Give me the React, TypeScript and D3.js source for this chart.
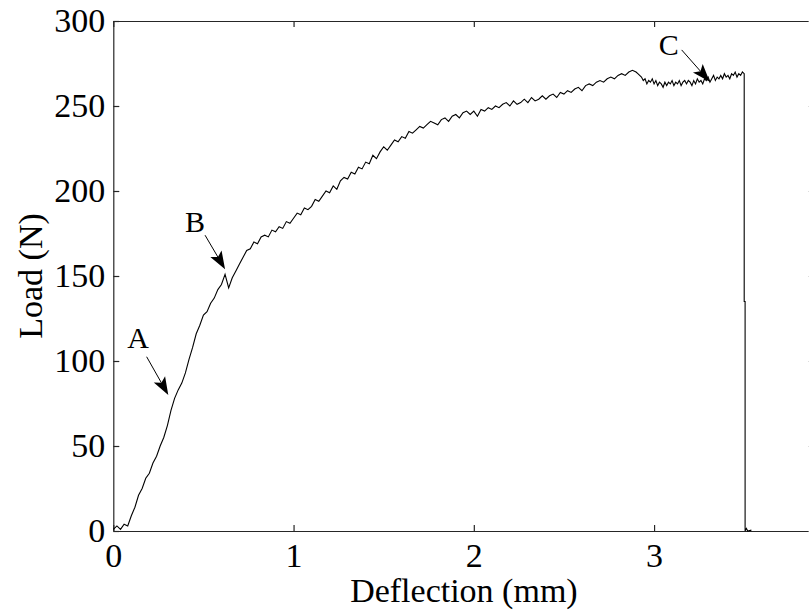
import { useEffect, useRef } from 'react'
import * as d3 from 'd3'

// ─── Data ────────────────────────────────────────────────────────────────────

const xTicks = [0, 1, 2, 3]
const yTicks = [0, 50, 100, 150, 200, 250, 300]

// deflection (mm), load (N)
const loadCurve: [number, number][] = [
  [0.00, 1], [0.02, 3], [0.04, 1], [0.06, 4], [0.08, 3], [0.10, 9], [0.12, 14], [0.14, 21],
  [0.16, 25], [0.18, 31], [0.20, 34], [0.22, 40], [0.24, 44], [0.26, 50], [0.28, 55], [0.30, 62],
  [0.32, 71], [0.34, 78], [0.36, 83], [0.38, 87], [0.40, 93], [0.42, 101], [0.44, 108], [0.46, 116],
  [0.48, 121], [0.50, 127], [0.52, 129], [0.54, 134], [0.56, 137], [0.58, 142], [0.60, 145], [0.62, 151],
  [0.64, 143], [0.66, 149], [0.68, 153], [0.70, 157], [0.72, 161], [0.74, 165], [0.76, 166], [0.78, 170],
  [0.80, 169], [0.82, 173], [0.84, 174], [0.86, 173], [0.88, 177], [0.90, 176], [0.92, 179], [0.94, 178],
  [0.96, 182], [0.98, 181], [1.00, 184], [1.02, 187], [1.04, 186], [1.06, 190], [1.08, 189], [1.10, 191],
  [1.12, 195], [1.14, 194], [1.16, 197], [1.18, 200], [1.20, 199], [1.22, 203], [1.24, 201], [1.26, 206],
  [1.28, 208], [1.30, 207], [1.32, 211], [1.34, 210], [1.36, 214], [1.38, 213], [1.40, 217], [1.42, 216],
  [1.44, 221], [1.46, 219], [1.48, 223], [1.50, 226], [1.52, 224], [1.54, 227], [1.56, 230], [1.58, 229],
  [1.60, 232], [1.62, 231], [1.64, 235], [1.66, 234], [1.68, 236], [1.70, 238], [1.72, 237], [1.74, 239],
  [1.76, 241], [1.78, 240], [1.80, 239], [1.82, 242], [1.84, 243], [1.86, 241], [1.88, 244], [1.90, 245],
  [1.92, 243], [1.94, 246], [1.96, 247], [1.98, 245], [2.00, 247], [2.02, 244], [2.04, 248], [2.06, 247],
  [2.08, 249], [2.10, 248], [2.12, 250], [2.14, 249], [2.16, 251], [2.18, 252], [2.20, 250], [2.22, 253],
  [2.24, 251], [2.26, 252], [2.28, 254], [2.30, 252], [2.32, 255], [2.34, 253], [2.36, 254], [2.38, 256],
  [2.40, 254], [2.42, 256], [2.44, 257], [2.46, 255], [2.48, 258], [2.50, 257], [2.52, 259], [2.54, 258],
  [2.56, 260], [2.58, 261], [2.60, 259], [2.62, 262], [2.64, 263], [2.66, 262], [2.68, 264], [2.70, 265],
  [2.72, 264], [2.74, 266], [2.76, 267], [2.78, 266], [2.80, 268], [2.82, 269], [2.84, 268], [2.86, 270],
  [2.88, 271], [2.90, 270], [2.91, 269], [2.92, 268], [2.93, 267], [2.94, 265], [2.95, 266], [2.96, 263],
  [2.97, 265], [2.98, 264], [2.99, 266], [3.00, 263], [3.01, 265], [3.02, 262], [3.03, 264], [3.04, 263],
  [3.05, 261], [3.06, 264], [3.07, 262], [3.08, 264], [3.09, 263], [3.10, 265], [3.11, 262], [3.12, 264],
  [3.13, 263], [3.14, 265], [3.15, 262], [3.16, 264], [3.17, 265], [3.18, 263], [3.19, 265], [3.20, 264],
  [3.21, 262], [3.22, 265], [3.23, 263], [3.24, 266], [3.25, 264], [3.26, 265], [3.27, 263], [3.28, 266],
  [3.29, 265], [3.30, 267], [3.31, 264], [3.32, 266], [3.33, 268], [3.34, 265], [3.35, 267], [3.36, 266],
  [3.37, 268], [3.38, 266], [3.39, 269], [3.40, 267], [3.41, 268], [3.42, 266], [3.43, 269], [3.44, 268],
  [3.45, 270], [3.46, 267], [3.47, 269], [3.48, 268], [3.49, 270], [3.50, 269],
  // failure drop
  [3.500, 135], [3.505, 135], [3.505, 0], [3.512, 1.5], [3.52, 0], [3.54, 0.5],
]

// annotation letters: label position, arrow tail, arrow tip (data coords)
const markerLabels = ['A', 'B', 'C']
const markerText: [number, number][] = [[0.137, 107.5], [0.453, 176], [3.082, 280]]
const markerTail: [number, number][] = [[0.185, 102.5], [0.509, 174], [3.153, 283]]
const markerTip: [number, number][] = [[0.305, 80], [0.62, 154], [3.309, 264.3]]

// ─── Layout ──────────────────────────────────────────────────────────────────

const W = 809
const H = 614
const plot = { left: 113.3, right: 814.5, top: 21, bottom: 531 }
const serif = "'Liberation Serif', 'Times New Roman', serif"
const ink = '#262626'

export default function App() {
  const ref = useRef<SVGSVGElement>(null)

  useEffect(() => {
    if (!ref.current) return
    const svg = d3.select(ref.current)
    svg.selectAll('*').remove()

    const x = d3.scaleLinear().domain([0, 3.89]).range([plot.left, plot.right])
    const y = d3.scaleLinear().domain([0, 300]).range([plot.bottom, plot.top])

    const styleAxis = (sel: d3.Selection<SVGGElement, unknown, null, undefined>) => {
      sel.attr('font-family', serif).attr('font-size', 34)
      sel.select('.domain').attr('stroke', ink).attr('stroke-width', 1.2)
      sel.selectAll('.tick line').attr('stroke', ink).attr('stroke-width', 1.2)
      sel.selectAll('.tick text').attr('fill', '#000')
    }

    // bottom
    svg.append('g')
      .attr('transform', `translate(0,${plot.bottom})`)
      .call(d3.axisBottom(x).tickValues(xTicks).tickSize(-6).tickSizeOuter(0).tickPadding(12).tickFormat(d3.format('d')))
      .call(styleAxis)
    // top
    svg.append('g')
      .attr('transform', `translate(0,${plot.top})`)
      .call(d3.axisTop(x).tickValues(xTicks).tickSize(-6).tickSizeOuter(0).tickFormat(() => ''))
      .call(styleAxis)
    // left
    svg.append('g')
      .attr('transform', `translate(${plot.left},0)`)
      .call(d3.axisLeft(y).tickValues(yTicks).tickSize(-6).tickSizeOuter(0).tickPadding(8).tickFormat(d3.format('d')))
      .call(styleAxis)
    // right (spine falls just outside the picture)
    svg.append('g')
      .attr('transform', `translate(${plot.right},0)`)
      .call(d3.axisRight(y).tickValues(yTicks).tickSize(-6).tickSizeOuter(0).tickFormat(() => ''))
      .call(styleAxis)
      .call((sel) => sel.selectAll('.tick line').attr('stroke', '#bbb'))

    // curve
    const line = d3.line<[number, number]>().x((d) => x(d[0])).y((d) => y(d[1]))
    svg.append('path')
      .datum(loadCurve)
      .attr('d', line)
      .attr('fill', 'none')
      .attr('stroke', '#000')
      .attr('stroke-width', 1.1)

    // annotations
    markerLabels.forEach((label, i) => {
      const [tx, ty] = [x(markerText[i][0]), y(markerText[i][1])]
      const [ax, ay] = [x(markerTail[i][0]), y(markerTail[i][1])]
      const [bx, by] = [x(markerTip[i][0]), y(markerTip[i][1])]

      svg.append('text')
        .attr('x', tx)
        .attr('y', ty)
        .attr('text-anchor', 'middle')
        .attr('font-family', serif)
        .attr('font-size', 30)
        .attr('fill', '#000')
        .text(label)

      const len = Math.hypot(bx - ax, by - ay)
      const ux = (bx - ax) / len
      const uy = (by - ay) / len
      const headLen = 18
      const headW = 6.5
      const baseX = bx - ux * headLen
      const baseY = by - uy * headLen
      const notchX = bx - ux * headLen * 0.78
      const notchY = by - uy * headLen * 0.78

      svg.append('line')
        .attr('x1', ax)
        .attr('y1', ay)
        .attr('x2', notchX)
        .attr('y2', notchY)
        .attr('stroke', '#000')
        .attr('stroke-width', 1)

      svg.append('path')
        .attr('d', `M${bx},${by} L${baseX - uy * headW},${baseY + ux * headW} L${notchX},${notchY} L${baseX + uy * headW},${baseY - ux * headW} Z`)
        .attr('fill', '#000')
    })

    // axis titles
    svg.append('text')
      .attr('x', (plot.left + plot.right) / 2)
      .attr('y', 602)
      .attr('text-anchor', 'middle')
      .attr('font-family', serif)
      .attr('font-size', 34)
      .attr('fill', '#000')
      .text('Deflection (mm)')

    svg.append('text')
      .attr('transform', `translate(42,${(plot.top + plot.bottom) / 2}) rotate(-90)`)
      .attr('text-anchor', 'middle')
      .attr('font-family', serif)
      .attr('font-size', 34)
      .attr('fill', '#000')
      .text('Load (N)')
  }, [])

  return (
    <svg
      ref={ref}
      width={W}
      height={H}
      viewBox={`0 0 ${W} ${H}`}
      style={{ position: 'absolute', left: 0, top: 0, background: '#fff', display: 'block' }}
    />
  )
}
